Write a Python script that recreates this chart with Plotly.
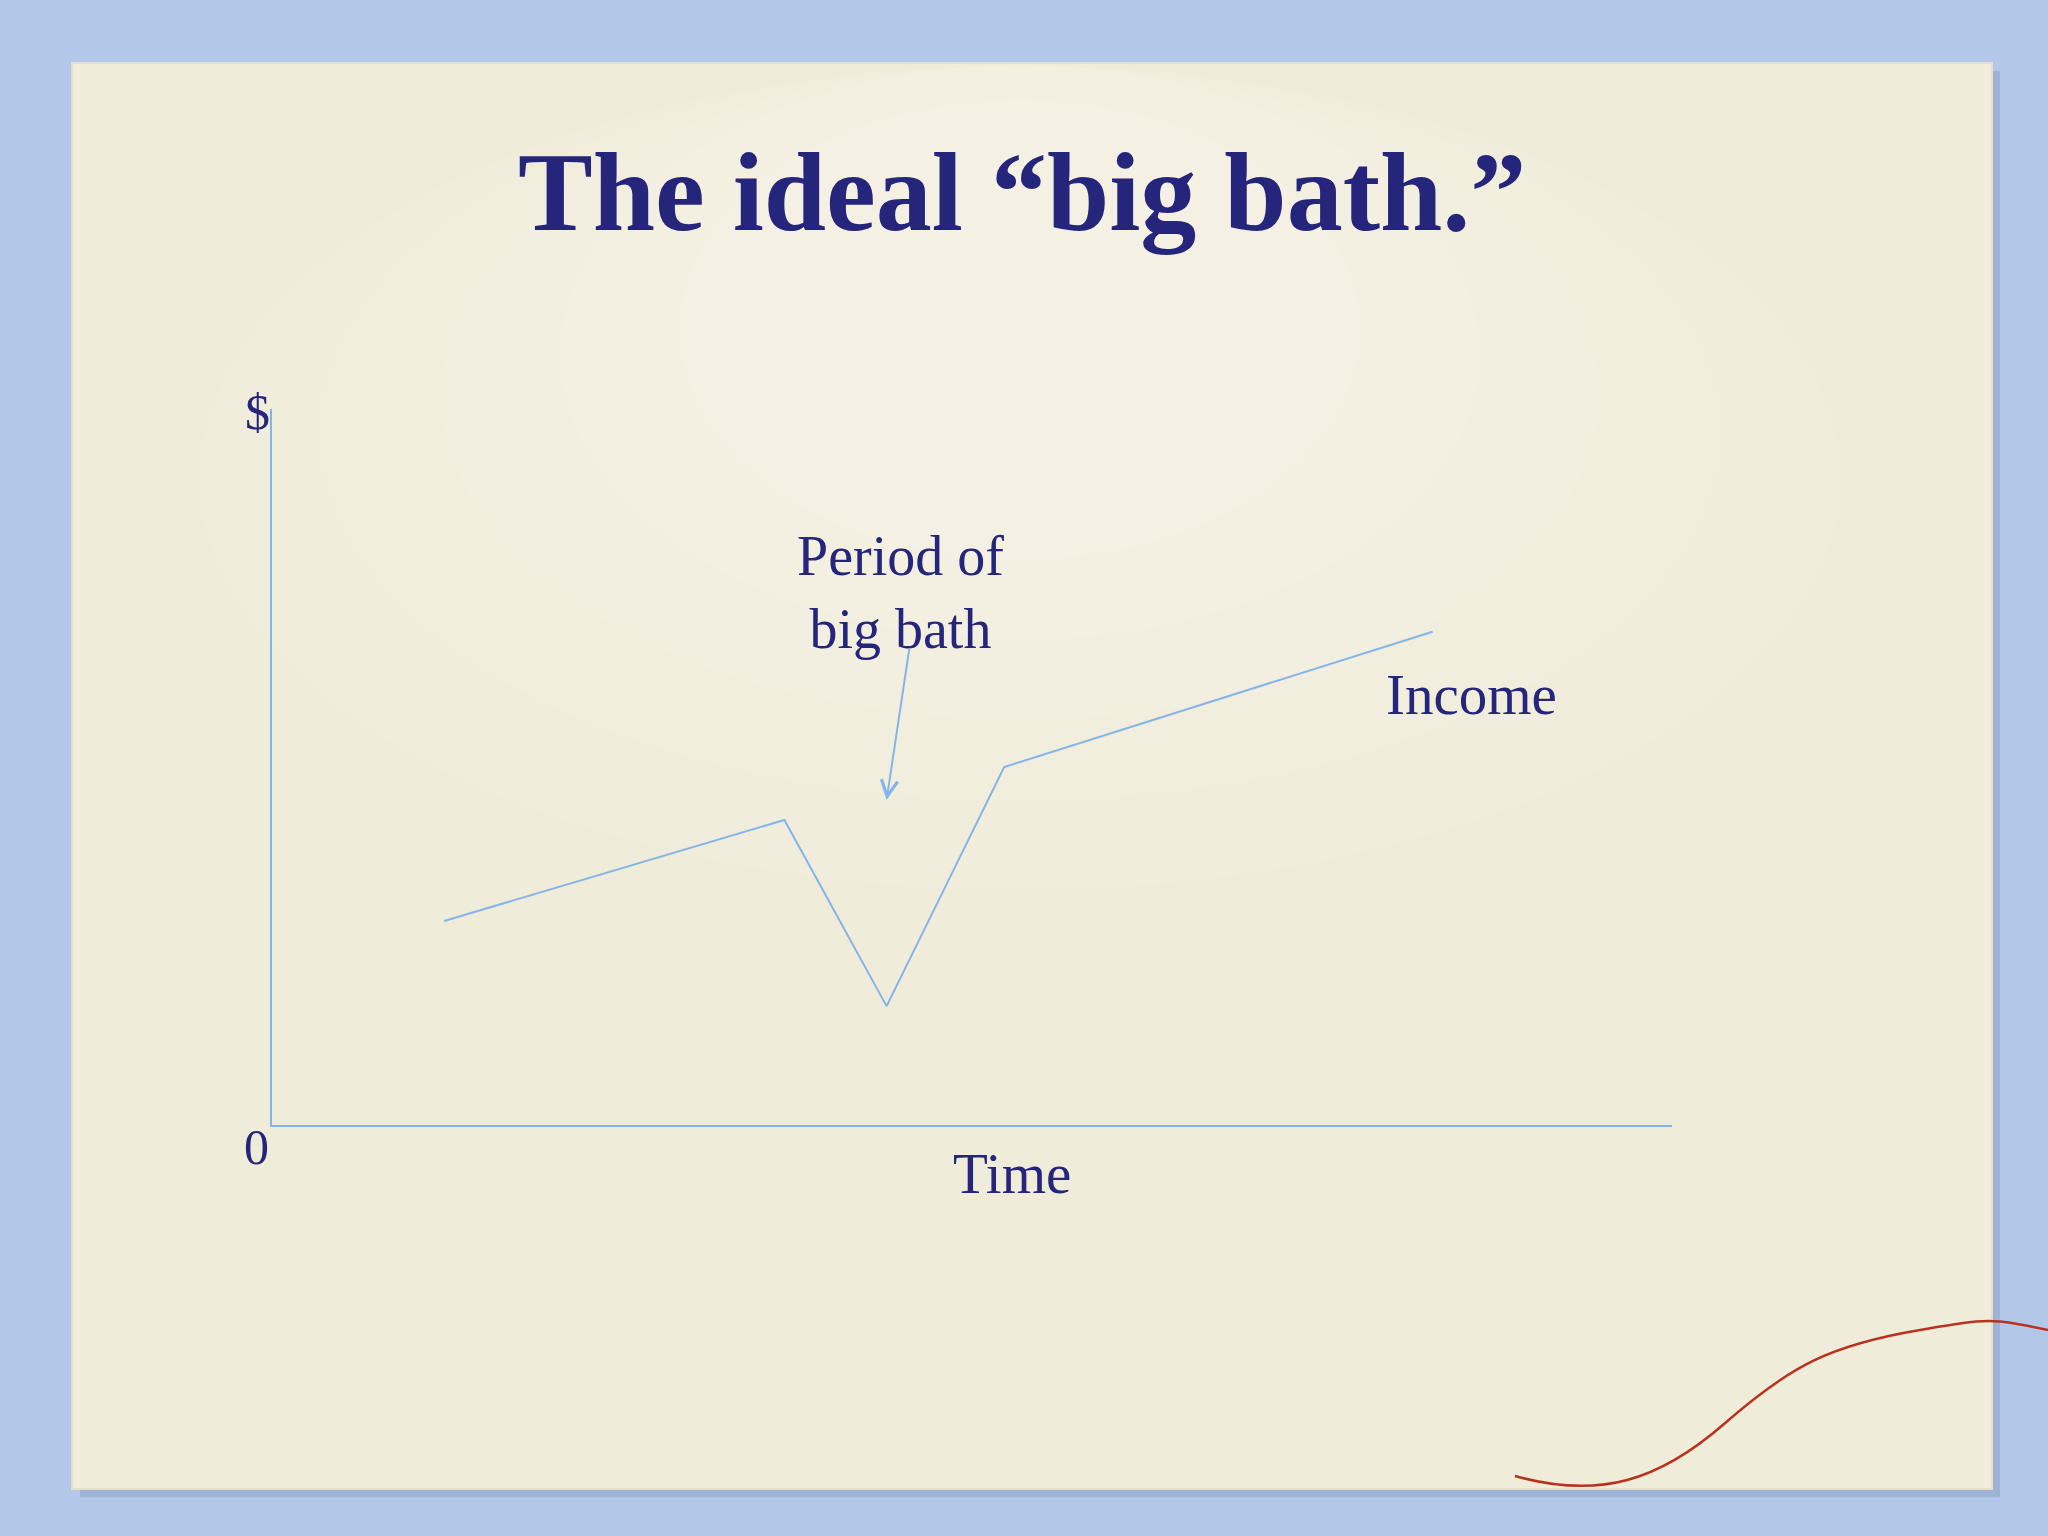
import plotly.graph_objects as go

# ---- data ----
time_vals = [1.23, 3.66, 4.39, 5.23, 8.29]
income_vals = [2.85, 4.26, 1.66, 5.0, 6.89]
series_label = "Income"
x_label = "Time"
y_top_label = "$"
y_zero_label = "0"
callout_text = "Period of<br>big bath"
callout_target = (4.39, 4.54)
title_text = "The ideal “big bath.”"

W, H = 2048, 1536
NAVY = "#25257b"
LINE = "#84b5ea"
FONT = "Liberation Serif"


def px(x):
    return x / W


def py(y):
    return 1 - y / H


fig = go.Figure()
fig.add_trace(go.Scatter(
    x=time_vals, y=income_vals, mode="lines",
    line=dict(color=LINE, width=2), name=series_label,
    showlegend=False, hoverinfo="skip",
))

# plot area: origin at (272,1125), top at 409, right end 1672
fig.update_layout(
    width=W, height=H, autosize=False,
    margin=dict(l=0, r=0, t=0, b=0),
    paper_bgcolor="#b3c8e8",
    plot_bgcolor="rgba(0,0,0,0)",
    showlegend=False,
    xaxis=dict(domain=[px(272), px(1672)], range=[0, 10], showgrid=False,
               zeroline=False, showticklabels=False, ticks="",
               showline=True, linecolor=LINE, linewidth=2),
    yaxis=dict(domain=[py(1125), py(409)], range=[0, 10], showgrid=False,
               zeroline=False, showticklabels=False, ticks="",
               showline=True, linecolor=LINE, linewidth=2),
)

# decorative paper sheet
shapes = []
shapes.append(dict(type="rect", xref="paper", yref="paper", layer="below",
                   x0=px(80), x1=px(2000), y0=py(1497), y1=py(71),
                   fillcolor="rgba(90,110,150,0.25)", line=dict(width=0)))
shapes.append(dict(type="rect", xref="paper", yref="paper", layer="below",
                   x0=px(72), x1=px(1992), y0=py(1489), y1=py(63),
                   fillcolor="#efecd9", line=dict(color="#e4e0cc", width=2)))
# soft light glow toward the upper centre
for i, (rx, ry) in enumerate([(820, 560), (700, 470), (580, 390), (460, 310), (340, 230)]):
    cx, cy = 1020, 330
    shapes.append(dict(type="circle", xref="paper", yref="paper", layer="below",
                       x0=px(cx - rx), x1=px(cx + rx),
                       y0=py(max(cy + ry, 0)), y1=py(max(cy - ry, 66)),
                       fillcolor="rgba(255,255,250,0.08)", line=dict(width=0)))
# red thread
pts = [(1515, 1476), (1600, 1500), (1660, 1480), (1724, 1424),
       (1790, 1366), (1830, 1345), (1920, 1330), (1990, 1318), (2048, 1330)]
path = "M {:.4f},{:.4f} ".format(px(pts[0][0]), py(pts[0][1]))
path += "C {:.4f},{:.4f} {:.4f},{:.4f} {:.4f},{:.4f} ".format(
    px(pts[1][0]), py(pts[1][1]), px(pts[2][0]), py(pts[2][1]), px(pts[3][0]), py(pts[3][1]))
path += "C {:.4f},{:.4f} {:.4f},{:.4f} {:.4f},{:.4f} ".format(
    px(pts[4][0]), py(pts[4][1]), px(pts[5][0]), py(pts[5][1]), px(pts[6][0]), py(pts[6][1]))
path += "C {:.4f},{:.4f} {:.4f},{:.4f} {:.4f},{:.4f}".format(
    px(pts[7][0]), py(pts[7][1]), px(pts[7][0]), py(pts[7][1]), px(pts[8][0]), py(pts[8][1]))
shapes.append(dict(type="path", xref="paper", yref="paper", path=path,
                   line=dict(color="#b8321f", width=2.5)))
fig.update_layout(shapes=shapes)

ann = []
ann.append(dict(text="<b>" + title_text + "</b>", xref="paper", yref="paper",
                x=px(1022), y=py(192), xanchor="center", yanchor="middle",
                showarrow=False, font=dict(family=FONT, size=112, color=NAVY)))
ann.append(dict(text=y_top_label, xref="paper", yref="paper",
                x=px(257), y=py(412), xanchor="center", yanchor="middle",
                showarrow=False, font=dict(family=FONT, size=50, color=NAVY)))
ann.append(dict(text=y_zero_label, xref="paper", yref="paper",
                x=px(256), y=py(1147), xanchor="center", yanchor="middle",
                showarrow=False, font=dict(family=FONT, size=50, color=NAVY)))
ann.append(dict(text=x_label, xref="paper", yref="paper",
                x=px(1012), y=py(1173), xanchor="center", yanchor="middle",
                showarrow=False, font=dict(family=FONT, size=57, color=NAVY)))
ann.append(dict(text=series_label, xref="paper", yref="paper",
                x=px(1471), y=py(694), xanchor="center", yanchor="middle",
                showarrow=False, font=dict(family=FONT, size=57, color=NAVY)))
ann.append(dict(text=callout_text, xref="paper", yref="paper",
                x=px(900), y=py(592), xanchor="center", yanchor="middle",
                showarrow=False, font=dict(family=FONT, size=56, color=NAVY)))
ann.append(dict(text="", xref="x", yref="y",
                x=callout_target[0], y=callout_target[1],
                ax=23, ay=-153, showarrow=True, arrowhead=5, arrowsize=1.6,
                arrowwidth=2, arrowcolor=LINE, standoff=0))
fig.update_layout(annotations=ann)

fig.write_html("out.html", config={"displayModeBar": False},
               post_script="document.body.style.margin='0';document.body.style.overflow='hidden';")
